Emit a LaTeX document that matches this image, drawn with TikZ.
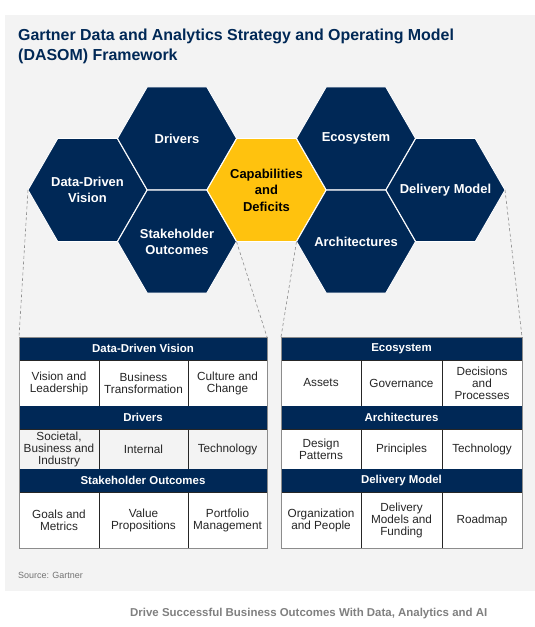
\documentclass[tikz,border=0pt]{standalone}
\usepackage{fontspec}
\setmainfont{Liberation Sans}
\usetikzlibrary{shapes.geometric,positioning}

\definecolor{gnavy}{HTML}{002856}
\definecolor{ggold}{HTML}{FFC20E}
\definecolor{gpanel}{HTML}{F3F3F3}
\definecolor{grule}{HTML}{8C8C8C}

\begin{document}
\begin{tikzpicture}[
        x=1bp, y=-1bp,
        hexlbl/.style={inner sep=0pt, align=center, text=white, font=\fontsize{13}{16.5}\selectfont\bfseries},
        hexshape/.style={regular polygon, regular polygon sides=6, minimum size=119bp, inner sep=0pt, outer sep=0pt,
            fill=gnavy, draw=white, line width=0.9bp},
        hex/.style={hexshape, label={[hexlbl]center:#1}},
        goldhex/.style={hexshape, fill=ggold, label={[hexlbl, text=black]center:#1}},
        hdr/.style={fill=gnavy, draw=gnavy, text=white, minimum height=23bp, inner sep=0pt, outer sep=0pt,
            anchor=north west, font=\fontsize{11.5}{13}\selectfont\bfseries},
        cell/.style={draw=black!85, fill=white, line width=0.6bp, inner sep=0pt, outer sep=0pt, align=center,
            text=black!85, font=\fontsize{11.8}{12}\selectfont},
        guide/.style={draw=grule, line width=0.6bp, dash pattern=on 3bp off 2.5bp},
        frame/.style={draw=grule, line width=1bp}
    ]
        % Page and panel
        \fill[white] (0,0) rectangle (535,627);
        \fill[gpanel] (5,15) rectangle (535,591);

        % Title
        \node[anchor=north west, inner sep=0pt, align=left, text=gnavy, font=\fontsize{16}{20.5}\selectfont\bfseries]
            (title) at (18,28.5) {Gartner Data and Analytics Strategy and Operating Model\\(DASOM) Framework};

        % Honeycomb
        \node[hex={Data-Driven\\Vision}] (ddv) at (87.5,190) {};
        \node[hex={Drivers}] (drv) at (177,138.4) {};
        \node[hex={Stakeholder\\Outcomes}] (so) at (177,241.6) {};
        \node[goldhex={Capabilities\\and\\Deficits}] (cap) at (266.5,190) {};
        \node[hex={Ecosystem}] (eco) at (356,138.4) {};
        \node[hex={Architectures}] (arch) at (356,241.6) {};
        \node[hex={Delivery Model}] (dm) at (445.5,190) {};

        % Left table
        \node[hdr, minimum width=248bp] (ddv_h) at (19,337) {Data-Driven Vision};
        \node[cell, anchor=north west, minimum width=80bp, minimum height=46bp] (ddv_1) at (ddv_h.south west) {Vision and\\Leadership};
        \node[cell, right=0pt of ddv_1, minimum width=89bp, minimum height=46bp] (ddv_2) {Business\\Transformation};
        \node[cell, right=0pt of ddv_2, minimum width=79bp, minimum height=46bp] (ddv_3) {Culture and\\Change};

        \node[hdr, minimum width=248bp] (drv_h) at (ddv_1.south west) {Drivers};
        \node[cell, fill=gpanel, anchor=north west, minimum width=80bp, minimum height=40bp] (drv_1) at (drv_h.south west) {Societal,\\Business and\\Industry};
        \node[cell, fill=gpanel, right=0pt of drv_1, minimum width=89bp, minimum height=40bp] (drv_2) {Internal};
        \node[cell, fill=gpanel, right=0pt of drv_2, minimum width=79bp, minimum height=40bp] (drv_3) {Technology};

        \node[hdr, minimum width=248bp] (so_h) at (drv_1.south west) {Stakeholder Outcomes};
        \node[cell, anchor=north west, minimum width=80bp, minimum height=56bp] (so_1) at (so_h.south west) {Goals and\\Metrics};
        \node[cell, right=0pt of so_1, minimum width=89bp, minimum height=56bp] (so_2) {Value\\Propositions};
        \node[cell, right=0pt of so_2, minimum width=79bp, minimum height=56bp] (so_3) {Portfolio\\Management};

        \draw[frame] (ddv_h.north west) rectangle (so_3.south east);

        % Right table
        \node[hdr, minimum width=241bp] (eco_h) at (281,337) {Ecosystem};
        \node[cell, anchor=north west, minimum width=80bp, minimum height=46bp] (eco_1) at (eco_h.south west) {Assets};
        \node[cell, right=0pt of eco_1, minimum width=81bp, minimum height=46bp] (eco_2) {Governance};
        \node[cell, right=0pt of eco_2, minimum width=80bp, minimum height=46bp] (eco_3) {Decisions\\and\\Processes};

        \node[hdr, minimum width=241bp] (arch_h) at (eco_1.south west) {Architectures};
        \node[cell, anchor=north west, minimum width=80bp, minimum height=40bp] (arch_1) at (arch_h.south west) {Design\\Patterns};
        \node[cell, right=0pt of arch_1, minimum width=81bp, minimum height=40bp] (arch_2) {Principles};
        \node[cell, right=0pt of arch_2, minimum width=80bp, minimum height=40bp] (arch_3) {Technology};

        \node[hdr, minimum width=241bp] (dm_h) at (arch_1.south west) {Delivery Model};
        \node[cell, anchor=north west, minimum width=80bp, minimum height=56bp] (dm_1) at (dm_h.south west) {Organization\\and People};
        \node[cell, right=0pt of dm_1, minimum width=81bp, minimum height=56bp] (dm_2) {Delivery\\Models and\\Funding};
        \node[cell, right=0pt of dm_2, minimum width=80bp, minimum height=56bp] (dm_3) {Roadmap};

        \draw[frame] (eco_h.north west) rectangle (dm_3.south east);

        % Zoom guides
        \draw[guide] (ddv.180) -- (ddv_h.north west);
        \draw[guide] (so.0) -- (ddv_h.north east);
        \draw[guide] (arch.180) -- (eco_h.north west);
        \draw[guide] (dm.0) -- (eco_h.north east);

        % Source and footer
        \node[anchor=west, inner sep=0pt, text=black!55, font=\fontsize{9}{10}\selectfont] (src) at (18,575) {Source: Gartner};
        \node[anchor=west, inner sep=0pt, text=black!50, font=\fontsize{11.5}{13}\selectfont\bfseries] (foot) at (130,614)
            {Drive Successful Business Outcomes With Data, Analytics and AI};
    \end{tikzpicture}
\end{document}
